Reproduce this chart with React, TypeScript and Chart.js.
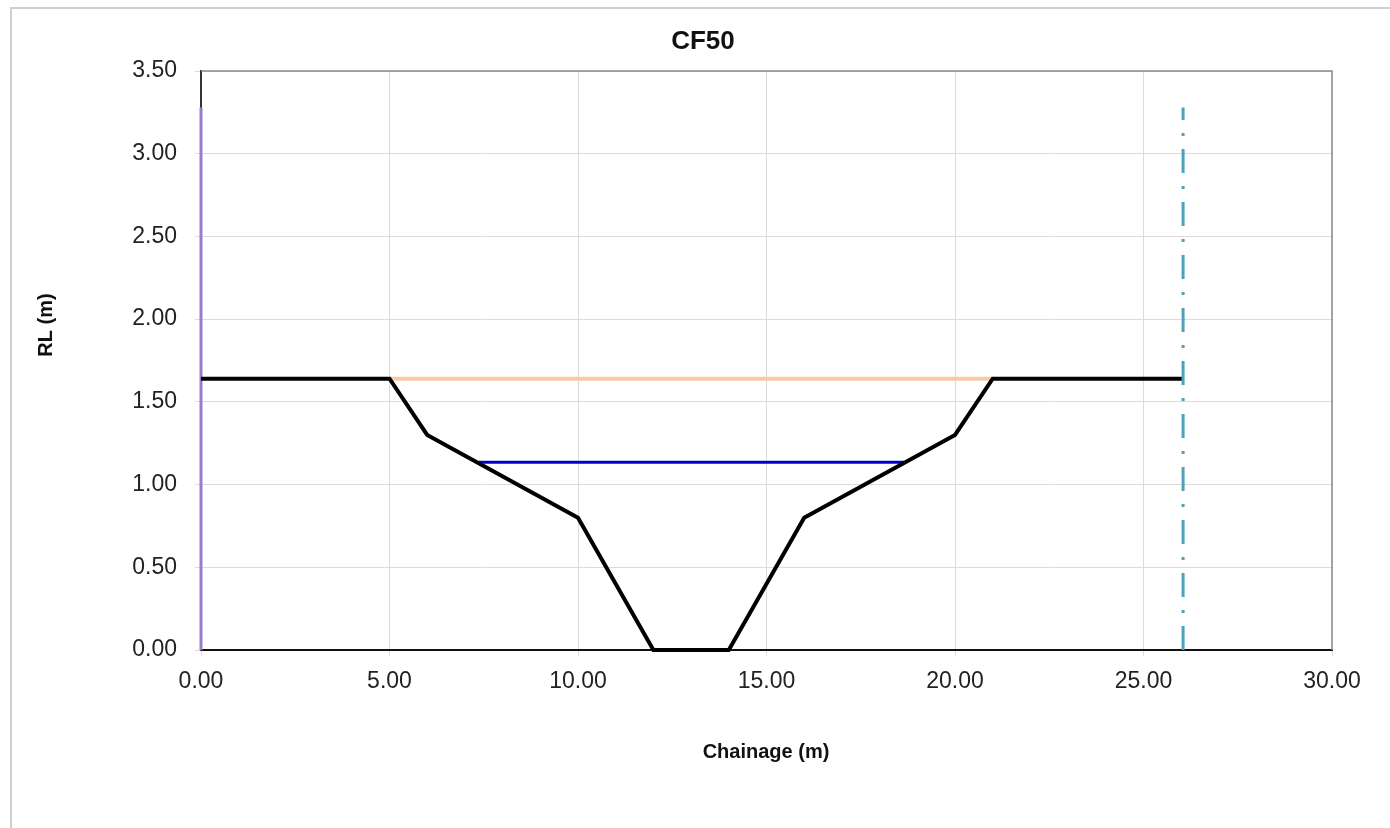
import React, { useEffect, useRef } from "react";
import { Chart, registerables } from "chart.js";

Chart.register(...registerables);

const chartTitle = "CF50";
const xAxisTitle = "Chainage (m)";
const yAxisTitle = "RL (m)";

const groundX = [0, 5, 6, 10, 12, 14, 16, 20, 21, 26.05];
const groundY = [1.64, 1.64, 1.3, 0.8, 0, 0, 0.8, 1.3, 1.64, 1.64];

const bankX = [5, 21];
const bankY = [1.64, 1.64];

const waterX = [7.36, 18.65];
const waterY = [1.135, 1.135];

const leftMarkX = [0, 0];
const leftMarkY = [0, 3.28];

const rightMarkX = [26.05, 26.05];
const rightMarkY = [0, 3.28];

const xTicks = [0, 5, 10, 15, 20, 25, 30];
const yTicks = [0, 0.5, 1, 1.5, 2, 2.5, 3, 3.5];

const pts = (xs: number[], ys: number[]) => xs.map((x, i) => ({ x, y: ys[i] }));

export default function App() {
  const ref = useRef<HTMLCanvasElement | null>(null);

  useEffect(() => {
    if (!ref.current) return;
    const FONT = "'Liberation Sans', Arial, sans-serif";

    const decor = {
      id: "decor",
      beforeDraw(chart: any) {
        const ctx = chart.ctx;
        ctx.save();
        ctx.fillStyle = "#ffffff";
        ctx.fillRect(0, 0, chart.width, chart.height);
        ctx.strokeStyle = "#cfcfcf";
        ctx.lineWidth = 2;
        ctx.beginPath();
        ctx.moveTo(11, 828);
        ctx.lineTo(11, 8);
        ctx.lineTo(1390, 8);
        ctx.stroke();
        ctx.restore();
      },
      afterDraw(chart: any) {
        const ctx = chart.ctx;
        const a = chart.chartArea;
        ctx.save();
        ctx.strokeStyle = "#8a8a8a";
        ctx.lineWidth = 1.5;
        ctx.beginPath();
        ctx.moveTo(a.left, a.top);
        ctx.lineTo(a.right, a.top);
        ctx.lineTo(a.right, a.bottom);
        ctx.stroke();
        ctx.fillStyle = "#111";
        ctx.textAlign = "center";
        ctx.textBaseline = "middle";
        ctx.font = `bold 26px ${FONT}`;
        ctx.fillText(chartTitle, 703, 42);
        ctx.font = `bold 20px ${FONT}`;
        ctx.fillText(xAxisTitle, 766, 752);
        ctx.translate(46, 325);
        ctx.rotate(-Math.PI / 2);
        ctx.fillText(yAxisTitle, 0, 0);
        ctx.restore();
      },
    };

    const chart = new Chart(ref.current, {
      type: "scatter",
      data: {
        datasets: [
          {
            label: "Ground",
            data: pts(groundX, groundY),
            showLine: true,
            borderColor: "#000000",
            borderWidth: 4,
            pointRadius: 0,
            order: 1,
            clip: false,
          } as any,
          {
            label: "Water",
            data: pts(waterX, waterY),
            showLine: true,
            borderColor: "#0000cc",
            borderWidth: 3,
            pointRadius: 0,
            order: 2,
            clip: false,
          },
          {
            label: "Bank",
            data: pts(bankX, bankY),
            showLine: true,
            borderColor: "#f8c9a4",
            borderWidth: 4,
            pointRadius: 0,
            order: 3,
            clip: false,
          },
          {
            label: "Left",
            data: pts(leftMarkX, leftMarkY),
            showLine: true,
            borderColor: "#9a7cc9",
            borderWidth: 3,
            pointRadius: 0,
            order: 4,
            clip: false,
          },
          {
            label: "Right",
            data: pts(rightMarkX, rightMarkY),
            showLine: true,
            borderColor: "#4ba3b9",
            borderWidth: 3,
            borderDash: [24, 13, 3, 13],
            pointRadius: 0,
            order: 0,
            clip: false,
          },
        ],
      },
      options: {
        responsive: false,
        animation: false,
        devicePixelRatio: 1,
        layout: { padding: { top: 71, left: 101, right: 58, bottom: 78 } },
        plugins: {
          legend: { display: false },
          title: { display: false },
          tooltip: { enabled: false },
        },
        scales: {
          x: {
            type: "linear",
            min: 0,
            max: 30,
            afterFit: (s: any) => {
              s.height = 100;
            },
            afterBuildTicks: (s: any) => {
              s.ticks = xTicks.map((v) => ({ value: v }));
            },
            ticks: {
              font: { family: FONT, size: 23 },
              color: "#222",
              padding: 12,
              maxRotation: 0,
              callback: (v: any) => Number(v).toFixed(2),
            },
            grid: { color: "#dcdcdc", lineWidth: 1, tickLength: 6 },
            border: { display: true, color: "#111", width: 2 },
          },
          y: {
            type: "linear",
            min: 0,
            max: 3.5,
            afterFit: (s: any) => {
              s.width = 100;
            },
            afterBuildTicks: (s: any) => {
              s.ticks = yTicks.map((v) => ({ value: v }));
            },
            ticks: {
              font: { family: FONT, size: 23 },
              color: "#222",
              padding: 18,
              callback: (v: any) => Number(v).toFixed(2),
            },
            grid: { color: "#dcdcdc", lineWidth: 1, tickLength: 6 },
            border: { display: true, color: "#333", width: 2 },
          },
        },
      },
      plugins: [decor],
    } as any);

    return () => chart.destroy();
  }, []);

  return (
    <div style={{ position: "absolute", left: 0, top: 0, width: 1390, height: 828 }}>
      <canvas ref={ref} width={1390} height={828} style={{ width: 1390, height: 828, display: "block" }} />
    </div>
  );
}
